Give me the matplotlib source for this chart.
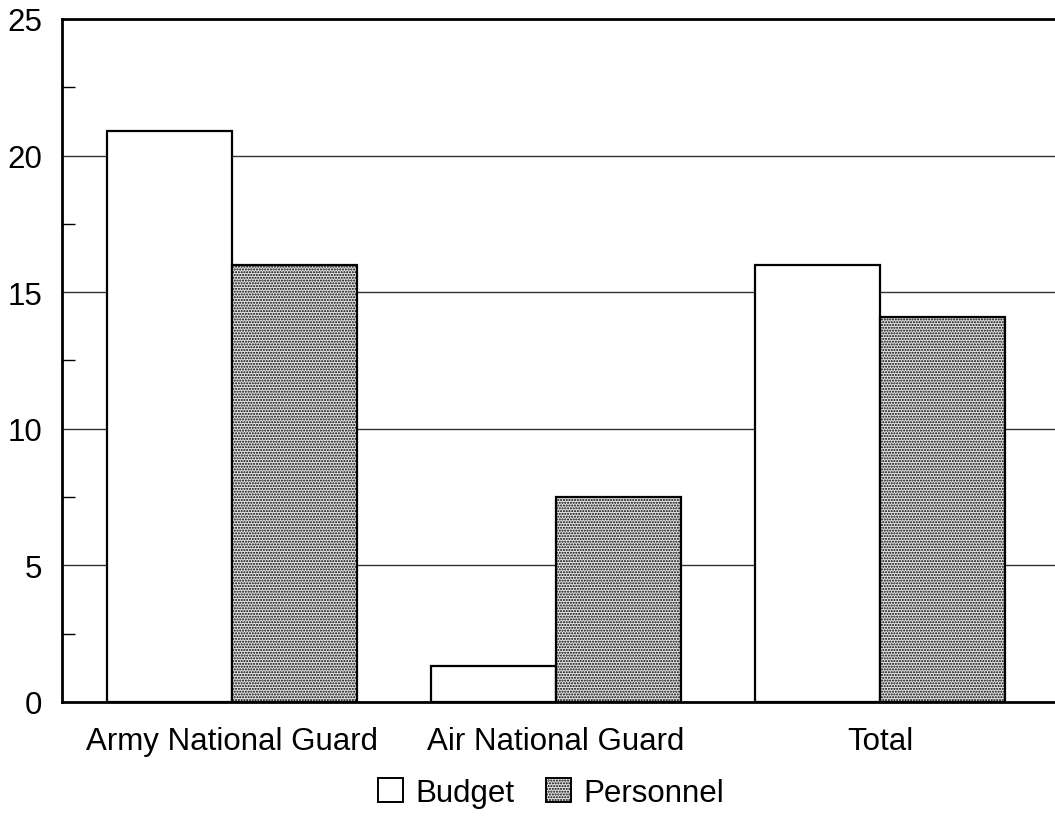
import numpy as np
import matplotlib.pyplot as plt
from matplotlib.patches import Patch

plt.rcParams['font.family'] = ['Liberation Sans', 'DejaVu Sans']
plt.rcParams['hatch.linewidth'] = 1.0

categories = ['Army National Guard', 'Air National Guard', 'Total']
budget = [20.9, 1.3, 16.0]
personnel = [16.0, 7.5, 14.1]
yticks = [0, 5, 10, 15, 20, 25]

fig = plt.figure(figsize=(10.55, 8.2), dpi=100)
ax = fig.add_axes([0.0588, 0.1427, 0.9412, 0.833])

x = np.arange(len(categories))
w = 0.386
shade = '#e4e4e4'
ax.bar(x - w / 2, budget, w, facecolor='white', edgecolor='black', linewidth=1.6, zorder=3)
ax.bar(x + w / 2, personnel, w, facecolor=shade, edgecolor='black', linewidth=1.6,
       hatch='......', zorder=3)

ax.set_xlim(-0.525, 2.54)
ax.set_ylim(0, 25)
ax.set_yticks(yticks)
ax.set_yticks(np.arange(2.5, 25, 5), minor=True)
ax.set_xticks(x)
ax.set_xticklabels(categories, fontsize=22.5)
ax.tick_params(axis='y', which='major', labelsize=22.5, length=0, pad=14)
ax.tick_params(axis='y', which='minor', direction='in', length=9, width=1)
ax.tick_params(axis='x', length=0, pad=17)
ax.grid(axis='y', color='#333333', linewidth=1.0, zorder=0)

for s in ['left', 'top', 'bottom']:
    ax.spines[s].set_linewidth(2)
ax.spines['right'].set_visible(False)

handles = [Patch(facecolor='white', edgecolor='black', linewidth=1.4, label='Budget'),
           Patch(facecolor=shade, edgecolor='black', linewidth=1.4, hatch='......', label='Personnel')]
fig.legend(handles=handles, loc='center', bbox_to_anchor=(0.522, 0.032), ncol=2, frameon=False,
           fontsize=22.5, handlelength=0.8, handleheight=0.8, handletextpad=0.4, columnspacing=1.0)

fig.savefig('out.png', dpi=100)
